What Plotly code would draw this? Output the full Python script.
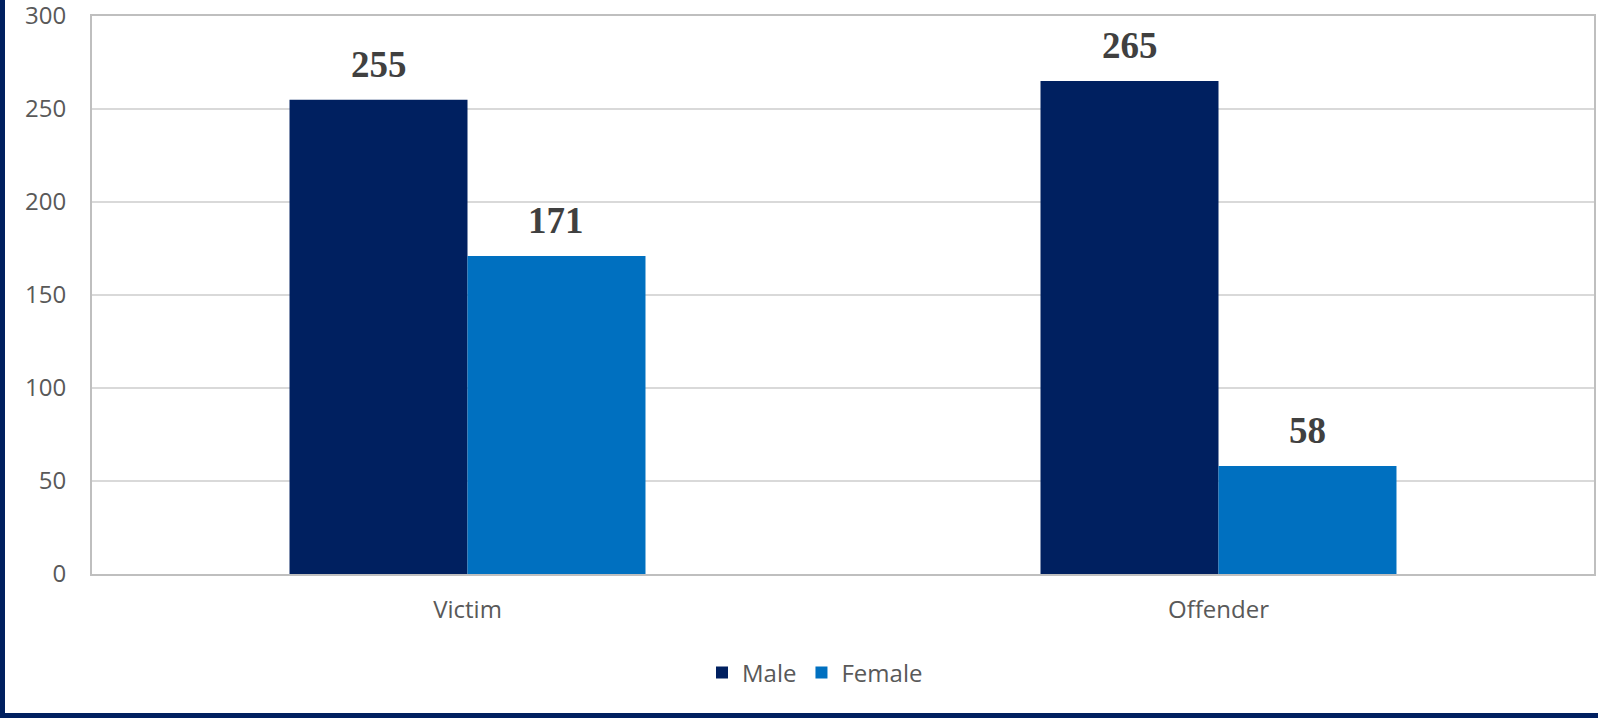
import plotly.graph_objects as go

categories = ["Victim", "Offender"]
male = [255, 265]
female = [171, 58]
y_ticks = [0, 50, 100, 150, 200, 250, 300]

W, H = 1598, 718
L, R, T, B = 92, 4, 16, 144
pw, ph = W - L - R, H - T - B

navy = "#002060"
blue = "#0070C0"
font = "'Open Sans', 'Noto Sans', sans-serif"

fig = go.Figure()
fig.add_trace(go.Bar(x=categories, y=male, name="Male", marker=dict(color=navy, line=dict(width=0))))
fig.add_trace(go.Bar(x=categories, y=female, name="Female", marker=dict(color=blue, line=dict(width=0))))

bar_px = pw / len(categories) * (1 - 0.526) / 2
for series, sign in ((male, -1), (female, 1)):
    for c, v in zip(categories, series):
        fig.add_annotation(x=c, y=v, text=f"<b>{v}</b>", showarrow=False,
                           xshift=sign * bar_px / 2, yshift=13, yanchor="bottom",
                           font=dict(family="'Liberation Serif', 'Times New Roman', serif", size=37, color="#404040"))

fig.update_layout(
    width=W, height=H,
    margin=dict(l=L, r=R, t=T, b=B, autoexpand=False),
    paper_bgcolor="white", plot_bgcolor="white",
    barmode="group", bargap=0.526, bargroupgap=0,
    font=dict(family=font, size=24, color="#595959"),
    legend=dict(orientation="h", x=(815 - L) / pw, xanchor="center", y=(574 - 673) / ph, yanchor="middle",
                font=dict(size=24, color="#595959"), itemwidth=30, traceorder="normal"),
    xaxis=dict(showline=True, linecolor="#bfbfbf", linewidth=2, mirror=True, ticks="", automargin=False,
               ticklabelstandoff=13, showgrid=False, tickfont=dict(size=24)),
    yaxis=dict(range=[0, 300], tickvals=y_ticks, showline=True, linecolor="#bfbfbf", linewidth=2, mirror=True,
               gridcolor="#d9d9d9", gridwidth=2, ticks="", ticklabelstandoff=19, zeroline=False, automargin=False,
               ticklabeloverflow="allow", tickfont=dict(size=24)),
    shapes=[
        dict(type="rect", xref="paper", yref="paper", x0=-L / pw, x1=(5 - L) / pw, y0=-B / ph, y1=(H - B) / ph,
             fillcolor=navy, line=dict(width=0), layer="above"),
        dict(type="rect", xref="paper", yref="paper", x0=-L / pw, x1=(W - L) / pw, y0=-B / ph, y1=(5 - B) / ph,
             fillcolor=navy, line=dict(width=0), layer="above"),
    ],
)
fig.write_html("out.html", config={"displayModeBar": False},
               post_script="document.body.style.margin='0';document.body.style.overflow='hidden';")
